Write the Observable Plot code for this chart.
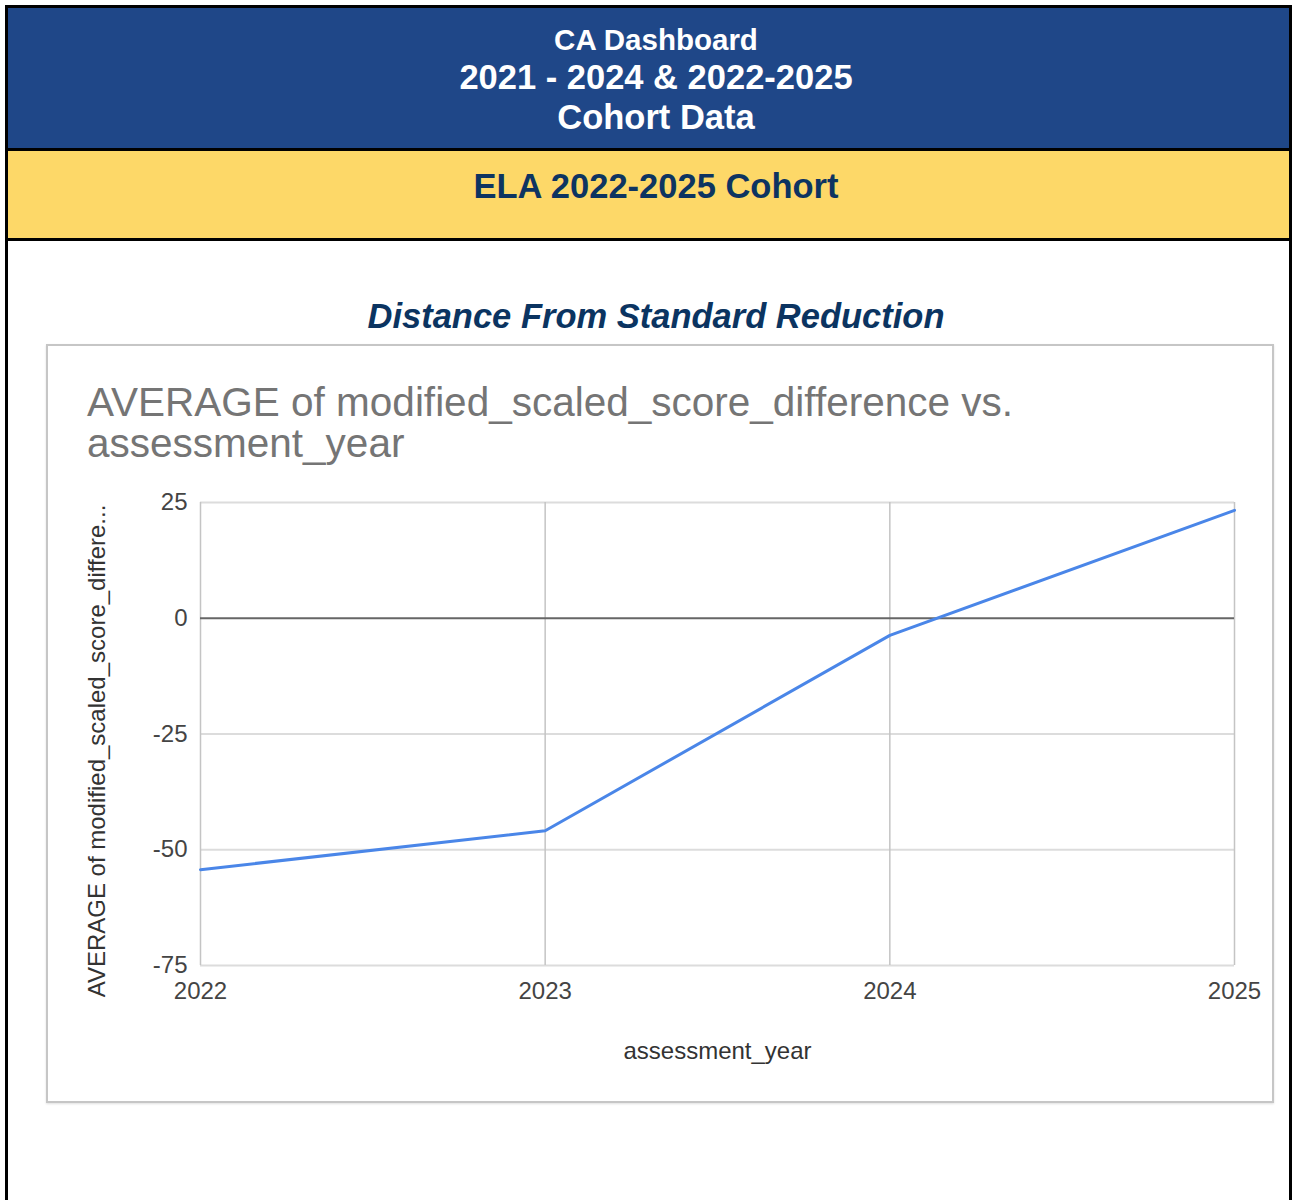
<!DOCTYPE html>
<html>
<head>
<meta charset="utf-8">
<script src="https://cdn.jsdelivr.net/npm/d3@7"></script>
<script src="https://cdn.jsdelivr.net/npm/@observablehq/plot@0.6"></script>
<style>
  html, body { margin: 0; padding: 0; background: #fff; overflow: hidden; }
  body { font-family: "Liberation Sans", Arial, Helvetica, sans-serif; }
  #page { position: relative; width: 1294px; height: 1200px; overflow: hidden; }
  .frame { position: absolute; left: 5px; top: 5px; width: 1281px; height: 1300px; border: 3px solid #000; }
  .banner { position: absolute; left: 8px; top: 8px; width: 1281px; height: 140px; background: #1f4788; border-bottom: 3px solid #000; }
  .band { position: absolute; left: 8px; top: 151px; width: 1281px; height: 87px; background: #fdd868; border-bottom: 3px solid #000; }
  .line { position: absolute; left: 0; width: 1312px; text-align: center; white-space: nowrap; font-weight: bold; }
  .hdr { color: #fff; }
  .box { position: absolute; left: 46px; top: 344px; width: 1224px; height: 755px; border: 2px solid #c6c6c6; box-shadow: 0 1px 2px rgba(0,0,0,0.12); }
  .chart-title { position: absolute; left: 39px; top: 36px; font-size: 40.5px; line-height: 41px; color: #757575; white-space: nowrap; }
  #plot { position: absolute; left: 0; top: 0; }
</style>
</head>
<body>
<div id="page">
  <div class="frame"></div>
  <div class="banner"></div>
  <div class="band"></div>
  <div class="line hdr" style="top:25px;font-size:29.5px;line-height:29.5px;">CA Dashboard</div>
  <div class="line hdr" style="top:60px;font-size:34.5px;line-height:34.5px;">2021 - 2024 &amp; 2022-2025</div>
  <div class="line hdr" style="top:100px;font-size:34.5px;line-height:34.5px;">Cohort Data</div>
  <div class="line" style="top:169px;font-size:34.5px;line-height:34.5px;color:#0d3461;">ELA 2022-2025 Cohort</div>
  <div class="line" style="top:299px;font-size:34.5px;line-height:34.5px;color:#0b3461;font-style:italic;">Distance From Standard Reduction</div>
  <div class="box">
    <div class="chart-title">AVERAGE of modified_scaled_score_difference vs.<br>assessment_year</div>
    <div id="plot"></div>
  </div>
</div>
<script>
// Cohort values: average modified scaled-score difference per assessment year
const years = [2022, 2023, 2024, 2025];
const avgScoreDifference = [-54.3, -45.9, -3.7, 23.3];
const yTicks = [-75, -50, -25, 0, 25];
const xTitle = "assessment_year";
const yTitle = "AVERAGE of modified_scaled_score_differe...";

const rows = years.map((year, i) => ({year, value: avgScoreDifference[i]}));
const font = '"Liberation Sans", Arial, Helvetica, sans-serif';

const chart = Plot.plot({
  width: 1224,
  height: 755,
  marginLeft: 152,
  marginRight: 38,
  marginTop: 156,
  marginBottom: 136,
  style: {fontFamily: font, fontSize: "24px", color: "#444", background: "transparent", overflow: "visible"},
  x: {domain: [2022, 2025], label: null},
  y: {domain: [-75, 25], label: null},
  marks: [
    Plot.gridY(yTicks.filter((t) => t !== 0), {stroke: "#dcdcdc", strokeOpacity: 1, strokeWidth: 2}),
    Plot.gridX(years, {stroke: "#c4c4c4", strokeOpacity: 1, strokeWidth: 1.5}),
    Plot.ruleY([0], {stroke: "#666", strokeWidth: 2}),
    Plot.axisX(years, {tickSize: 0, tickPadding: 16, tickFormat: (d) => String(d), fontSize: 24, fill: "#444", label: null}),
    Plot.axisY(yTicks, {tickSize: 0, tickPadding: 13, tickFormat: (d) => String(d), fontSize: 24, fill: "#444", label: null}),
    Plot.line(rows, {x: "year", y: "value", stroke: "#4a86e8", strokeWidth: 3}),
    Plot.text([xTitle], {text: (d) => d, frameAnchor: "bottom", dy: 93, fontSize: 24, fill: "#333"}),
    Plot.text([yTitle], {text: (d) => d, frameAnchor: "left", textAnchor: "middle", dx: -103, dy: 17, rotate: -90, fontSize: 24, fill: "#333"})
  ]
});
document.getElementById("plot").appendChild(chart);
</script>
</body>
</html>
